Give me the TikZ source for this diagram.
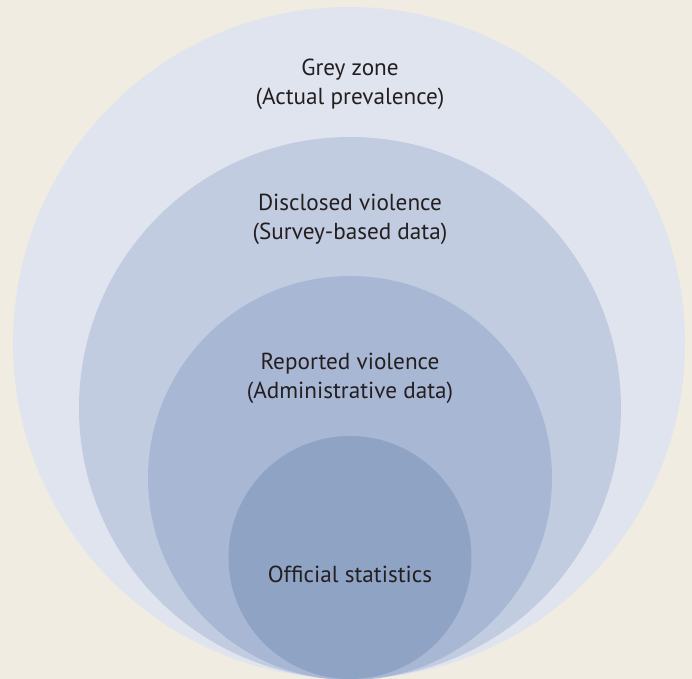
\documentclass[tikz,border=0pt]{standalone}
\usepackage{fontspec}
\setmainfont{PT Sans}
\usetikzlibrary{positioning}

\definecolor{paper}{HTML}{F1ECE1}
\definecolor{zoneA}{HTML}{DFE4EF}
\definecolor{zoneB}{HTML}{C1CCE0}
\definecolor{zoneC}{HTML}{A8B7D4}
\definecolor{zoneD}{HTML}{8FA3C5}
\definecolor{ink}{HTML}{231F20}

\tikzset{
  zonetext/.style={font=\fontsize{11.6}{14.5}\selectfont,text=ink,align=center,inner sep=0pt}
}

\begin{document}
\begin{tikzpicture}[x=0.5pt,y=-0.5pt]
  % ====== Background ======
  \fill[paper] (0,0) rectangle (692,679);
  \useasboundingbox (0,0) rectangle (692,679);
  \clip (0,0) rectangle (692,679);

  % ====== Nested circles (tangent at bottom) ======
  \fill[zoneA] (349,343) circle (336);
  \fill[zoneB] (350,408) circle (271);
  \fill[zoneC] (350,478) circle (202);
  \fill[zoneD] (350,557.5) circle (121.5);

  % ====== Labels ======
  \node[zonetext] (grey) at (350,84.5) {Grey zone\\(Actual prevalence)};
  \node[zonetext] (disclosed) at (350,219.5) {Disclosed violence\\(Survey-based data)};
  \node[zonetext] (reported) at (350,378) {Reported violence\\(Administrative data)};
  \node[zonetext] (official) at (350,574) {Official statistics};
\end{tikzpicture}
\end{document}
